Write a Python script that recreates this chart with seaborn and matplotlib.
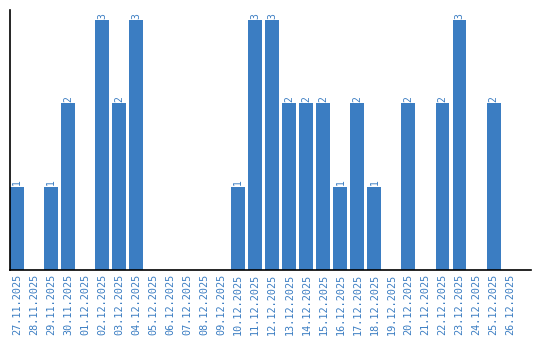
import matplotlib
matplotlib.use("Agg")
import matplotlib.pyplot as plt
import seaborn as sns
import pandas as pd

dates = ["27.11.2025", "28.11.2025", "29.11.2025", "30.11.2025", "01.12.2025",
         "02.12.2025", "03.12.2025", "04.12.2025", "05.12.2025", "06.12.2025",
         "07.12.2025", "08.12.2025", "09.12.2025", "10.12.2025", "11.12.2025",
         "12.12.2025", "13.12.2025", "14.12.2025", "15.12.2025", "16.12.2025",
         "17.12.2025", "18.12.2025", "19.12.2025", "20.12.2025", "21.12.2025",
         "22.12.2025", "23.12.2025", "24.12.2025", "25.12.2025", "26.12.2025"]
counts = [1, 0, 1, 2, 0, 3, 2, 3, 0, 0,
          0, 0, 0, 1, 3, 3, 2, 2, 2, 1,
          2, 1, 0, 2, 0, 2, 3, 0, 2, 0]

blue = "#3b7dc2"
df = pd.DataFrame({"date": dates, "count": counts})

sns.set_style("white")
fig = plt.figure(figsize=(5.4, 3.4), dpi=100)
ax = fig.add_axes([10/540, 70/340, 521/540, 260/340])
sns.barplot(data=df, x="date", y="count", color=blue, saturation=1,
            width=0.82, linewidth=0, edgecolor="none", ax=ax)

ax.set_xlim(-0.41, 30.2)
ax.set_ylim(0, 3.12)
ax.set_xlabel("")
ax.set_ylabel("")
ax.set_yticks([])
for s in ["top", "right"]:
    ax.spines[s].set_visible(False)
for s in ["left", "bottom"]:
    ax.spines[s].set_color("black")
    ax.spines[s].set_linewidth(1.2)

ax.tick_params(axis="x", length=0, pad=3)
for lab in ax.get_xticklabels():
    lab.set_rotation(90)
    lab.set_color(blue)
    lab.set_fontsize(7.3)
    lab.set_family("DejaVu Sans Mono")

cont = ax.containers[0]
labels = [str(v) if v > 0 else "" for v in counts]
ax.bar_label(cont, labels=labels, rotation=90, color=blue, fontsize=7,
             padding=1, family="DejaVu Sans Mono")

fig.savefig("out.png", dpi=100)
